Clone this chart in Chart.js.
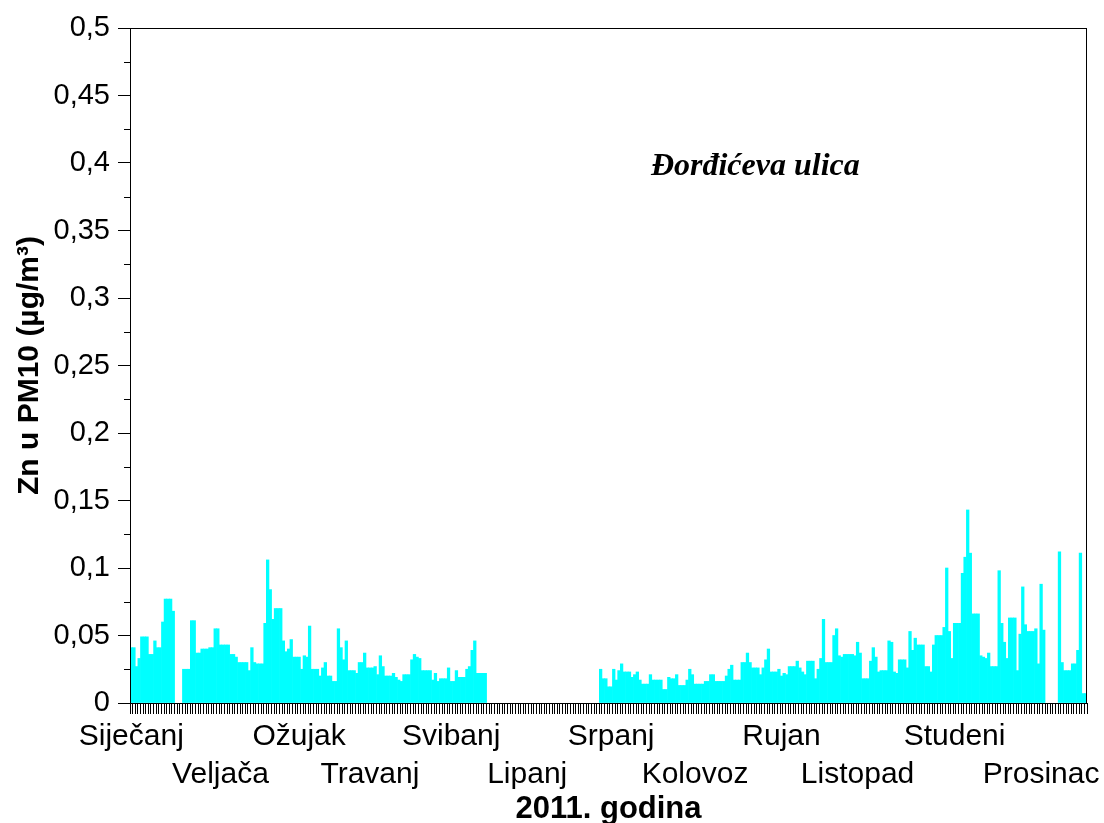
<!DOCTYPE html>
<html>
<head>
<meta charset="utf-8">
<script src="https://cdn.jsdelivr.net/npm/chart.js@4"></script>
<style>
  html, body { margin: 0; padding: 0; background: #fff; }
  #wrap { width: 1104px; height: 823px; position: relative; }
</style>
</head>
<body>
<div id="wrap"><canvas id="znChart"></canvas></div>
<script>
// Dnevne koncentracije Zn u PM10, Đorđićeva ulica, 2011. (null = nema mjerenja)
const sijecanj = [0.041,0.041,0.027,0.033,0.049,0.049,0.049,0.036,0.036,0.046,
                  0.041,0.041,0.060,0.077,0.077,0.077,0.068,null,null,null,
                  0.025,0.025,0.025,0.061,0.061,0.037,0.037,0.040,0.040,0.040,
                  0.041];
const veljaca  = [0.041,0.055,0.055,0.043,0.043,0.043,0.043,0.036,0.036,0.034,
                  0.030,0.030,0.030,0.030,0.024,0.041,0.030,0.029,0.029,0.029,
                  0.059,0.106,0.084,0.062,0.070,0.070,0.070,0.046];
const ozujak   = [0.038,0.040,0.047,0.034,0.034,0.034,0.025,0.035,0.034,0.057,
                  0.025,0.025,0.025,0.020,0.026,0.030,0.020,0.020,0.016,0.016,
                  0.055,0.041,0.032,0.046,0.024,0.024,0.024,0.022,0.030,0.030,
                  0.037];
const travanj  = [0.026,0.026,0.026,0.027,0.021,0.035,0.027,0.020,0.020,0.020,
                  0.022,0.019,0.017,0.016,0.021,0.021,0.021,0.032,0.036,0.034,
                  0.033,0.024,0.024,0.024,0.024,0.017,0.022,0.016,0.018,0.018];
const svibanj  = [0.018,0.026,0.016,0.016,0.024,0.019,0.019,0.019,0.025,0.027,
                  0.039,0.046,0.022,0.022,0.022,0.022,null,null,null,null,
                  null,null,null,null,null,null,null,null,null,null,
                  null];
const lipanj   = [null,null,null,null,null,null,null,null,null,null,
                  null,null,null,null,null,null,null,null,null,null,
                  null,null,null,null,null,null,null,null,0.025,0.018];
const srpanj   = [0.018,0.012,0.012,0.025,0.017,0.024,0.029,0.023,0.023,0.023,
                  0.019,0.021,0.023,0.017,0.014,0.014,0.014,0.021,0.017,0.017,
                  0.017,0.017,0.010,0.010,0.019,0.018,0.018,0.021,0.013,0.013,
                  0.013];
const kolovoz  = [0.017,0.025,0.021,0.014,0.014,0.014,0.014,0.016,0.016,0.021,
                  0.021,0.016,0.016,0.016,0.016,0.020,0.025,0.028,0.017,0.017,
                  0.017,0.030,0.030,0.037,0.030,0.026,0.026,0.026,0.021,0.026,
                  0.032];
const rujan    = [0.040,0.023,0.023,0.023,0.025,0.020,0.022,0.021,0.027,0.027,
                  0.027,0.031,0.026,0.023,0.021,0.031,0.031,0.031,0.018,0.025,
                  0.033,0.062,0.030,0.030,0.030,0.050,0.055,0.035,0.034,0.036];
const listopad = [0.036,0.036,0.036,0.035,0.045,0.037,0.018,0.018,0.018,0.031,
                  0.041,0.034,0.023,0.024,0.024,0.024,0.046,0.045,0.023,0.022,
                  0.032,0.032,0.032,0.026,0.053,0.039,0.048,0.043,0.043,0.043,
                  0.027];
const studeni  = [0.027,0.023,0.043,0.050,0.050,0.050,0.056,0.100,0.053,0.033,
                  0.059,0.059,0.059,0.096,0.108,0.143,0.111,0.066,0.066,0.066,
                  0.035,0.034,0.033,0.037,0.027,0.027,0.027,0.098,0.059,0.045];
const prosinac = [0.033,0.063,0.063,0.063,0.024,0.051,0.086,0.058,0.053,0.053,
                  0.053,0.055,0.029,0.088,0.054,null,null,null,null,null,
                  0.112,0.030,0.024,0.024,0.024,0.029,0.029,0.039,0.111,0.007,
                  0.007];

// Nazivi mjeseci i dan (indeks) na kojem stoji naziv ispod osi
const mjeseci = ['Siječanj','Veljača','Ožujak','Travanj','Svibanj','Lipanj',
                 'Srpanj','Kolovoz','Rujan','Listopad','Studeni','Prosinac'];
const mjesecPozicija = [0, 34, 64, 91, 122, 151, 183, 215, 248, 277, 314, 347];
const yTicks = [0, 0.05, 0.1, 0.15, 0.2, 0.25, 0.3, 0.35, 0.4, 0.45, 0.5];

const vrijednosti = [].concat(sijecanj, veljaca, ozujak, travanj, svibanj, lipanj,
                              srpanj, kolovoz, rujan, listopad, studeni, prosinac);
const dani = vrijednosti.map((v, i) => 'd' + (i + 1));

const SANS = 'Arial, "Liberation Sans", sans-serif';

function zarez(v) {
  return String(Math.round(v * 1000) / 1000).replace('.', ',');
}

// Okvir oko područja grafa, sporedne crtice na y osi i natpis lokacije
const dodaci = {
  id: 'dodaci',
  afterDraw(chart) {
    const c = chart.ctx, a = chart.chartArea;
    const y = chart.scales.y, x = chart.scales.x;
    c.save();
    c.strokeStyle = '#000';
    c.lineWidth = 1;
    c.strokeRect(a.left + 0.5, a.top + 0.5, a.right - a.left - 1, a.bottom - a.top);
    // sporedne crtice
    c.beginPath();
    for (let i = 0; i < yTicks.length - 1; i++) {
      const py = Math.round(y.getPixelForValue((yTicks[i] + yTicks[i + 1]) / 2)) + 0.5;
      c.moveTo(a.left - 6, py);
      c.lineTo(a.left, py);
    }
    c.stroke();
    // natpis
    c.fillStyle = '#000';
    c.font = 'italic bold 32px "Liberation Serif", "Times New Roman", serif';
    c.textAlign = 'center';
    c.textBaseline = 'middle';
    c.fillText('Đorđićeva ulica', x.getPixelForValue(238), y.getPixelForValue(0.397));
    c.restore();
  }
};

new Chart(document.getElementById('znChart'), {
  type: 'bar',
  data: {
    labels: dani,
    datasets: [{
      data: vrijednosti,
      backgroundColor: '#00ffff',
      borderWidth: 0,
      categoryPercentage: 1,
      barPercentage: 1
    }]
  },
  options: {
    responsive: true,
    maintainAspectRatio: false,
    animation: false,
    layout: { padding: { top: 28, right: 17, left: 0, bottom: 0 } },
    plugins: {
      legend: { display: false },
      tooltip: { enabled: false }
    },
    scales: {
      x: {
        grid: {
          drawOnChartArea: false,
          drawTicks: true,
          tickLength: 11,
          color: '#000'
        },
        border: { display: true, color: '#000', width: 1 },
        ticks: {
          autoSkip: false,
          maxRotation: 0,
          minRotation: 0,
          padding: 4,
          color: '#000',
          font: { family: SANS, size: 30, lineHeight: 1.27 },
          callback: function(val, i) {
            const m = mjesecPozicija.indexOf(i);
            if (m < 0) return '';
            return m % 2 === 0 ? [mjeseci[m]] : ['', mjeseci[m]];
          }
        },
        title: {
          display: true,
          text: '2011. godina',
          color: '#000',
          font: { family: SANS, size: 31, weight: 'bold', lineHeight: 0.9 },
          padding: { top: 0, bottom: 0 }
        },
        afterFit(scale) { scale.height = 120; }
      },
      y: {
        min: 0,
        max: 0.5,
        afterBuildTicks(scale) { scale.ticks = yTicks.map(v => ({ value: v })); },
        grid: {
          drawOnChartArea: false,
          drawTicks: true,
          tickLength: 12,
          color: '#000'
        },
        border: { display: true, color: '#000', width: 1 },
        ticks: {
          padding: 8,
          color: '#000',
          font: { family: SANS, size: 29 },
          callback: v => zarez(v)
        },
        title: {
          display: true,
          text: 'Zn u PM10 (µg/m³)',
          color: '#000',
          font: { family: SANS, size: 30, weight: 'bold', lineHeight: 1.2 },
          padding: { top: 12, bottom: 0 }
        },
        afterFit(scale) { scale.width = 130; }
      }
    }
  },
  plugins: [dodaci]
});
</script>
</body>
</html>
